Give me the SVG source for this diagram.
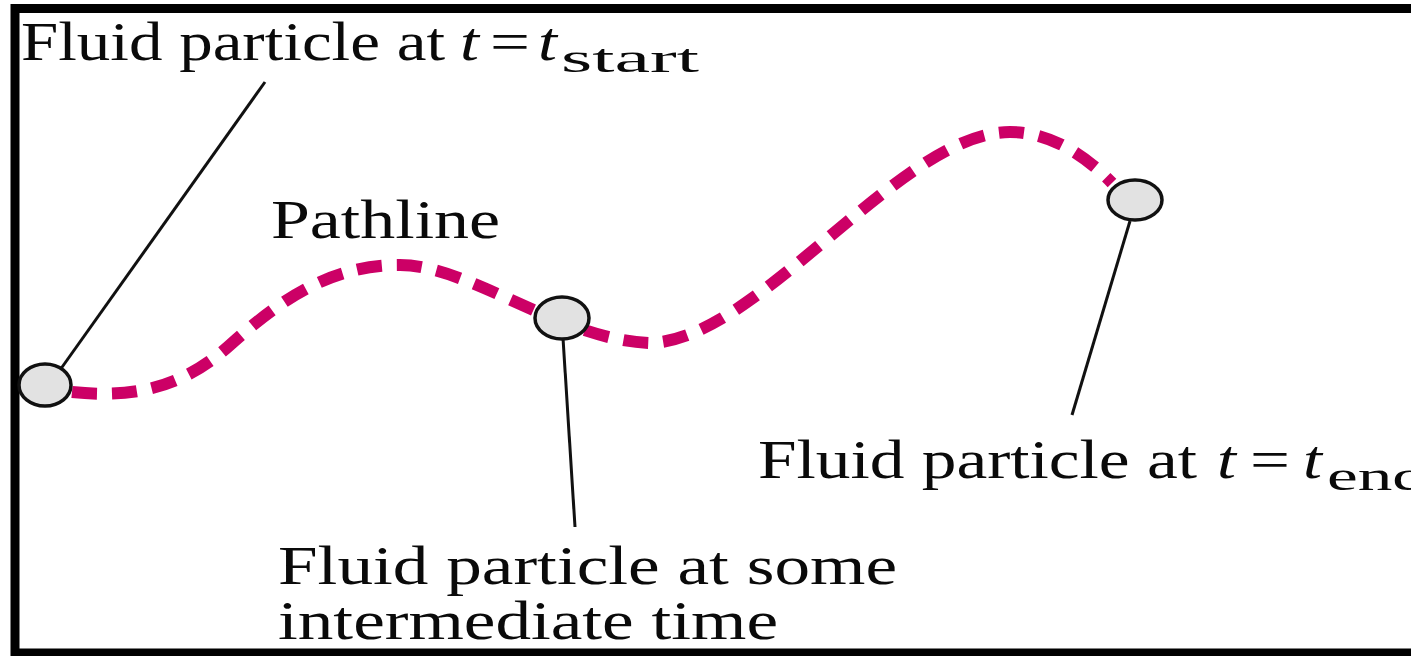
<svg xmlns="http://www.w3.org/2000/svg" width="1411" height="656" viewBox="0 0 1411 656">
<style>
.lbl{font-family:"Liberation Serif","Times New Roman",serif;font-size:54px;fill:#0a0a0a}
.it{font-style:italic}
.sub{font-size:40px}
.leader{stroke:#111;stroke-width:3;fill:none}
.particle{fill:#e2e2e2;stroke:#111;stroke-width:3.5}
.path{stroke:#cc0066;stroke-width:12;fill:none;stroke-dasharray:25 15}
.frame{stroke:#000;stroke-width:9;fill:none}
</style>
<rect width="1411" height="656" fill="#fff"/>
<g id="frame">
<line class="frame" x1="11" y1="8.5" x2="1411" y2="8.5"/>
<line class="frame" x1="15" y1="4" x2="15" y2="656"/>
<line class="frame" x1="11" y1="653" x2="1411" y2="653"/>
</g>
<g id="connectors">
<path id="pathline" class="path" d="M72 392 C130 398 180 390 230 345 S330 265 400 265 C470 265 560 340 650 343 C760 340 900 132 1010 132 C1050 132 1085 155 1112 183"/>
<line class="leader" x1="60" y1="370" x2="265" y2="82"/>
<line class="leader" x1="563" y1="338" x2="575" y2="527"/>
<line class="leader" x1="1130" y1="221" x2="1072" y2="415"/>
</g>
<g id="particle-start"><ellipse class="particle" cx="45" cy="385" rx="26" ry="21"/></g>
<g id="particle-mid"><ellipse class="particle" cx="562" cy="318" rx="27" ry="21"/></g>
<g id="particle-end"><ellipse class="particle" cx="1135" cy="200" rx="27" ry="20"/></g>
<g id="label-start" class="lbl">
<text x="21" y="60" textLength="424" lengthAdjust="spacingAndGlyphs">Fluid particle at</text>
<text x="460" y="60" class="it" textLength="19" lengthAdjust="spacingAndGlyphs">t</text>
<text x="490" y="60" textLength="40" lengthAdjust="spacingAndGlyphs">=</text>
<text x="538" y="60" class="it" textLength="19" lengthAdjust="spacingAndGlyphs">t</text>
<text x="561" y="72" class="sub" textLength="138" lengthAdjust="spacingAndGlyphs">start</text>
</g>
<g id="label-pathline" class="lbl"><text x="271" y="238" textLength="229" lengthAdjust="spacingAndGlyphs">Pathline</text></g>
<g id="label-end" class="lbl">
<text x="758" y="478" textLength="439" lengthAdjust="spacingAndGlyphs">Fluid particle at</text>
<text x="1217" y="478" class="it" textLength="19" lengthAdjust="spacingAndGlyphs">t</text>
<text x="1250" y="478" textLength="40" lengthAdjust="spacingAndGlyphs">=</text>
<text x="1303" y="478" class="it" textLength="19" lengthAdjust="spacingAndGlyphs">t</text>
<text x="1327" y="490" class="sub" textLength="100" lengthAdjust="spacingAndGlyphs">end</text>
</g>
<g id="label-mid" class="lbl">
<text x="278" y="584" textLength="619" lengthAdjust="spacingAndGlyphs">Fluid particle at some</text>
<text x="278" y="639" textLength="500" lengthAdjust="spacingAndGlyphs">intermediate time</text>
</g>
</svg>
